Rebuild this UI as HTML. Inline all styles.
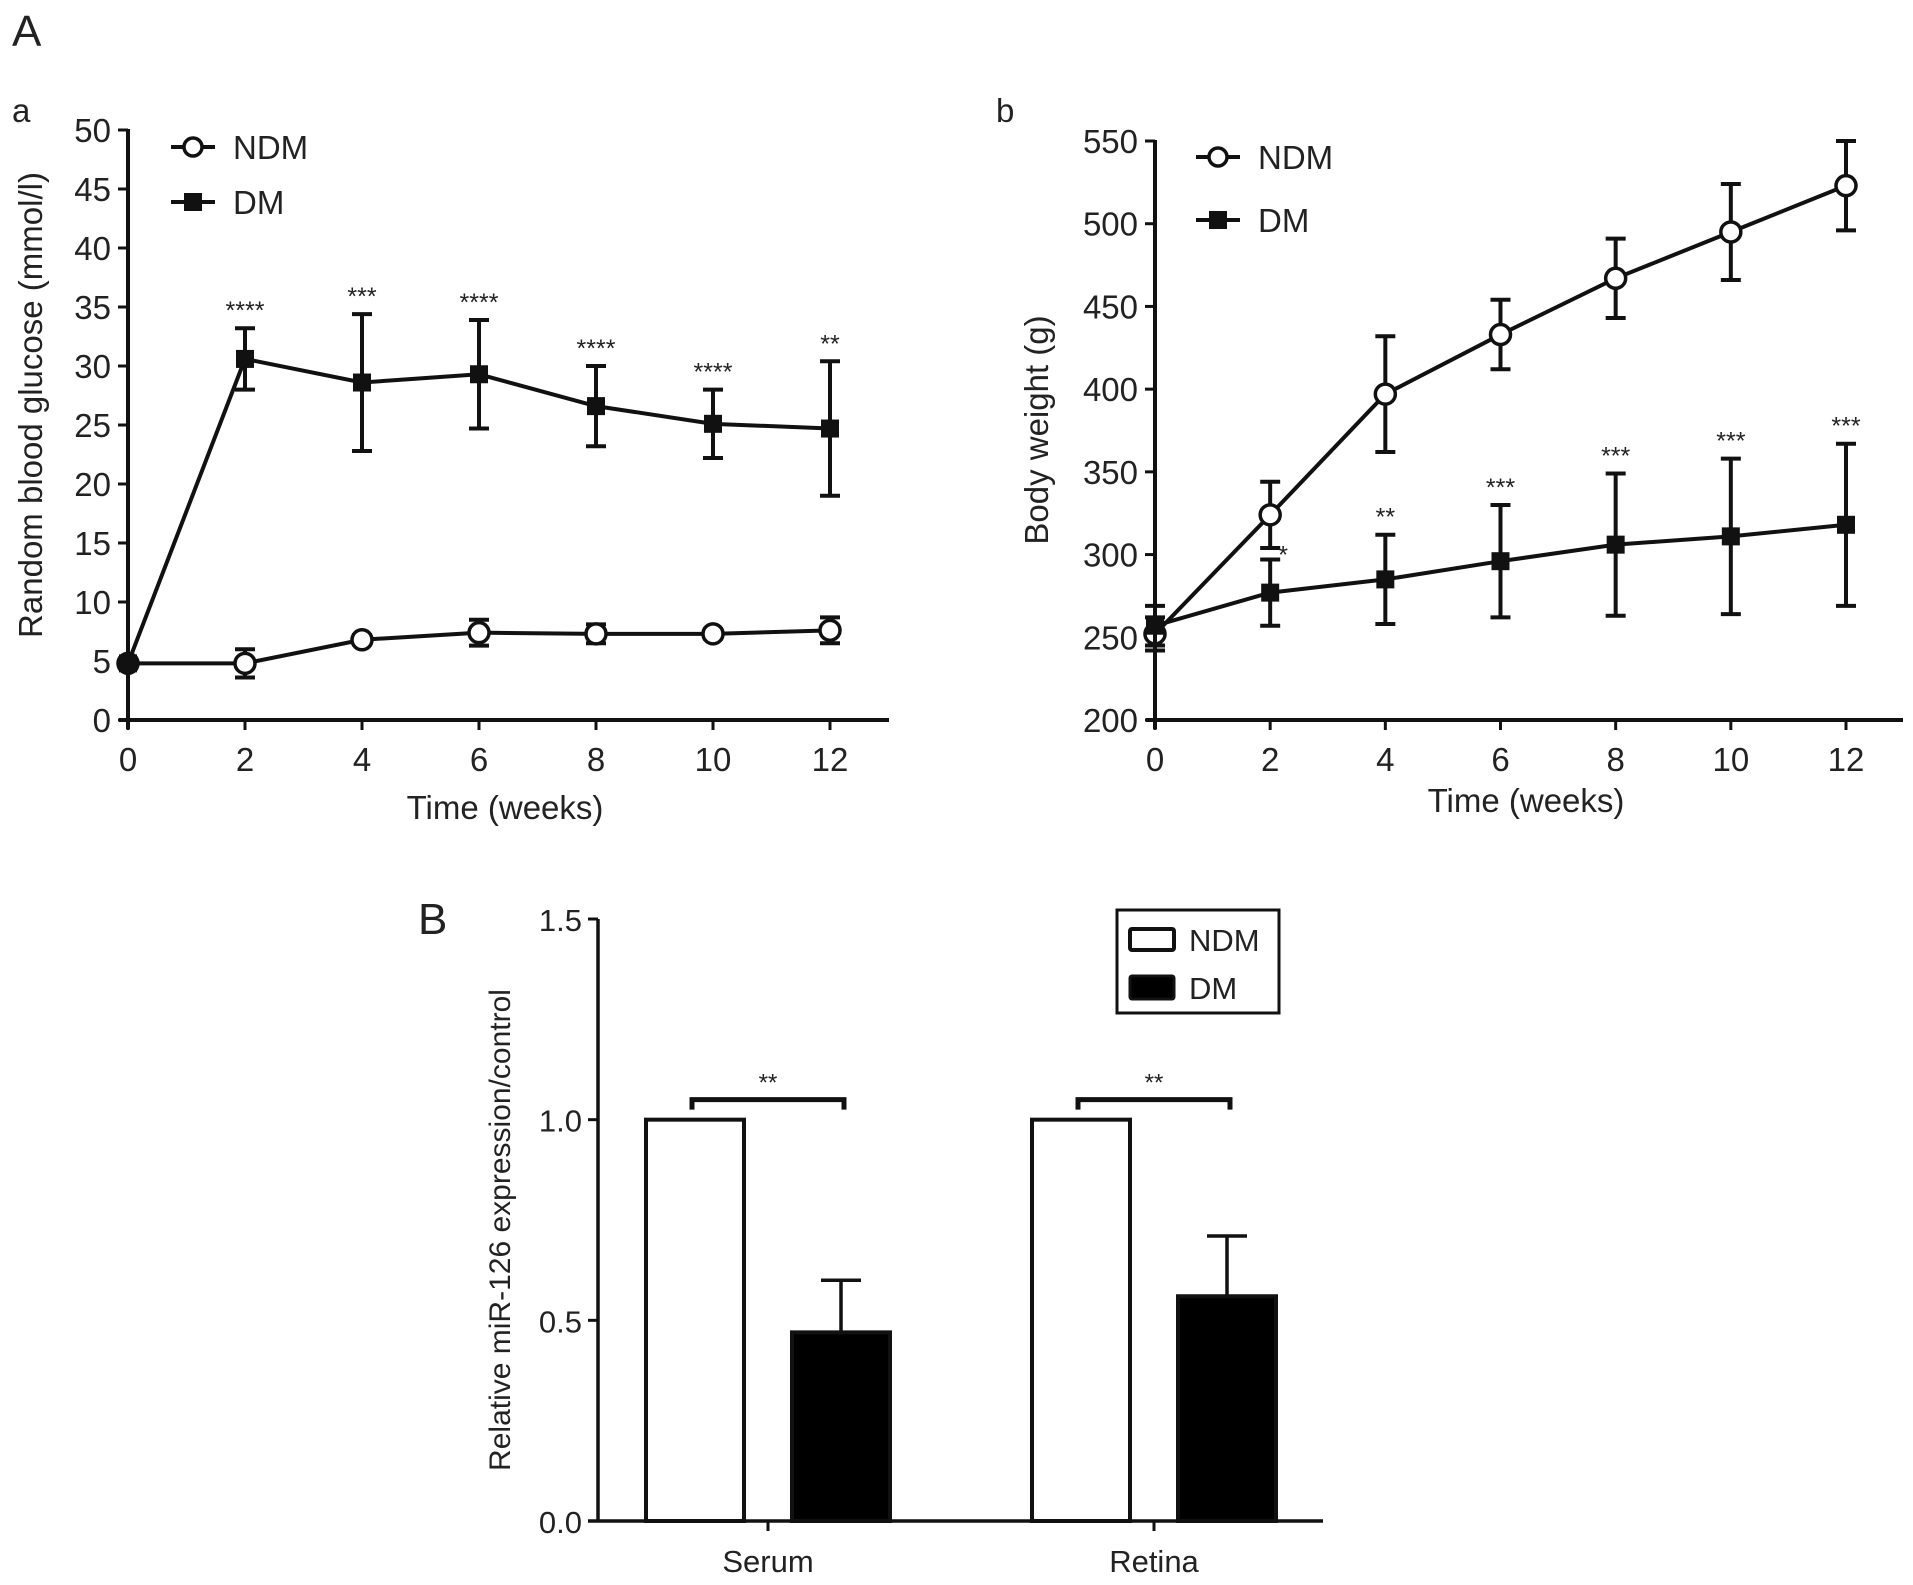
<!DOCTYPE html>
<html><head><meta charset="utf-8"><style>
html,body{margin:0;padding:0;background:#fff;}
svg{display:block;font-family:"Liberation Sans",Arial,sans-serif;}
</style></head><body>
<svg id="fig" width="1913" height="1585" viewBox="0 0 1913 1585">
<rect width="1913" height="1585" fill="#fff"/>
<text x="12" y="46" font-size="44" fill="#222">A</text>
<text x="12" y="122" font-size="33" fill="#222">a</text>
<text x="996" y="122" font-size="33" fill="#222">b</text>
<text x="418" y="934" font-size="44" fill="#222">B</text>
</svg>
<script>
// ---- Panel a data: blood glucose ----
const weeks = [0,2,4,6,8,10,12];
const glucoseNDM = [4.8,4.8,6.8,7.4,7.3,7.3,7.6];
const glucoseNDMErr = [0.4,1.2,0.4,1.1,0.8,0.4,1.1];
const glucoseDM = [4.8,30.6,28.6,29.3,26.6,25.1,24.7];
const glucoseDMErr = [0.4,2.6,5.8,4.6,3.4,2.9,5.7];
const glucoseStars = ["","****","***","****","****","****","**"];
const glucoseTicks = [0,5,10,15,20,25,30,35,40,45,50];
// ---- Panel b data: body weight ----
const weightNDM = [252,324,397,433,467,495,523];
const weightNDMErr = [10,20,35,21,24,29,27];
const weightDM = [257,277,285,296,306,311,318];
const weightDMErr = [12,20,27,34,43,47,49];
const weightStars = ["","*","**","***","***","***","***"];
const weightTicks = [200,250,300,350,400,450,500,550];
const xTicks = [0,2,4,6,8,10,12];
// ---- Panel B data: miR-126 ----
const tissues = ["Serum","Retina"];
const mirNDM = [1.0,1.0];
const mirDM = [0.47,0.56];
const mirDMErr = [0.13,0.15];
const mirStars = ["**","**"];
const mirTicks = ["0.0","0.5","1.0","1.5"];

const NS="http://www.w3.org/2000/svg";
const svg=document.getElementById('fig');
function mk(tag,attrs,parent){const e=document.createElementNS(NS,tag);for(const k in attrs)e.setAttribute(k,attrs[k]);(parent||svg).appendChild(e);return e;}

function linePanel(cfg){
  const g=mk('g',{});
  
  
  const xs=v=>cfg.x0+v/12*(cfg.x12-cfg.x0);
  const ys=v=>cfg.yb+(v-cfg.ymin)/(cfg.ymax-cfg.ymin)*(cfg.yt-cfg.yb);
  const ya=mk('line',{x1:cfg.x0,y1:ys(cfg.ymax)-1,x2:cfg.x0,y2:cfg.yb+9,stroke:'#111','stroke-width':4},g);
  
  
  const xa=mk('line',{x1:cfg.x0-9,y1:cfg.yb,x2:cfg.xend,y2:cfg.yb,stroke:'#111','stroke-width':4},g);
  
  
  cfg.yticks.forEach(t=>{
    mk('line',{x1:cfg.x0-10,y1:ys(t),x2:cfg.x0,y2:ys(t),stroke:'#111','stroke-width':3},g);
    const tx=mk('text',{x:cfg.x0-17,y:ys(t)+12,'font-size':33,'text-anchor':'end',fill:'#222'},g);
    tx.textContent=t;
    
    
  });
  xTicks.forEach(t=>{
    mk('line',{x1:xs(t),y1:cfg.yb,x2:xs(t),y2:cfg.yb+10,stroke:'#111','stroke-width':3},g);
    const tx=mk('text',{x:xs(t),y:cfg.yb+51,'font-size':33,'text-anchor':'middle',fill:'#222'},g);
    tx.textContent=t;
    
    
  });
  const xt=mk('text',{x:cfg.xtx,y:cfg.xty,'font-size':33,'text-anchor':'middle',fill:'#222'},g);
  xt.textContent='Time (weeks)';
  
  
  const yt=mk('text',{x:0,y:0,'font-size':33,'text-anchor':'middle',fill:'#222',transform:`translate(${cfg.ytx},${cfg.yty}) rotate(-90)`},g);
  yt.textContent=cfg.ytitle;
  
  
  function series(vals,errs,filled,nm){
    const sg=mk('g',{},g);
    
    
    let d='';vals.forEach((v,i)=>{d+=(i?'L':'M')+xs(weeks[i])+','+ys(v);});
    mk('path',{d:d,fill:'none',stroke:'#111','stroke-width':4},sg);
    vals.forEach((v,i)=>{
      const x=xs(weeks[i]),y1=ys(v+errs[i]),y2=ys(v-errs[i]);
      mk('line',{x1:x,y1:y1,x2:x,y2:y2,stroke:'#111','stroke-width':4},sg);
      mk('line',{x1:x-10,y1:y1,x2:x+10,y2:y1,stroke:'#111','stroke-width':4},sg);
      mk('line',{x1:x-10,y1:y2,x2:x+10,y2:y2,stroke:'#111','stroke-width':4},sg);
      let m;
      if(filled) m=mk('rect',{x:x-9,y:ys(v)-9,width:18,height:18,fill:'#111'},sg);
      else m=mk('circle',{cx:x,cy:ys(v),r:10,fill:'#fff',stroke:'#111','stroke-width':3.5},sg);
      
      
    });
  }
  series(cfg.ndm,cfg.ndmErr,false,'ndm-series');
  series(cfg.dm,cfg.dmErr,true,'dm-series');
  cfg.stars.forEach((s,i)=>{
    if(!s)return;
    const st=mk('text',{x:xs(weeks[i])+(s==='*'?13:0),y:(s==='*'?ys(cfg.dm[i]+cfg.dmErr[i])+4:ys(cfg.dm[i]+cfg.dmErr[i])-9),'font-size':25,'text-anchor':'middle',fill:'#222'},g);
    st.textContent=s;
    
    
  });
  [[cfg.legY1,'NDM',false],[cfg.legY2,'DM',true]].forEach(([y,lab,f])=>{
    const lg=mk('g',{},g);
    
    
    mk('line',{x1:cfg.legX,y1:y,x2:cfg.legX+44,y2:y,stroke:'#111','stroke-width':4},lg);
    if(f) mk('rect',{x:cfg.legX+13,y:y-9,width:18,height:18,fill:'#111'},lg);
    else mk('circle',{cx:cfg.legX+22,cy:y,r:9,fill:'#fff',stroke:'#111','stroke-width':3.5},lg);
    const t=mk('text',{x:cfg.legX+62,y:y+12,'font-size':33,fill:'#222'},lg);
    t.textContent=lab;
  });
}

linePanel({name:'glucose-chart',x0:128,x12:830,xend:889,yb:720,yt:130,ymin:0,ymax:50,yticks:glucoseTicks,
  ndm:glucoseNDM,ndmErr:glucoseNDMErr,dm:glucoseDM,dmErr:glucoseDMErr,stars:glucoseStars,
  xtx:505,xty:819,ytx:42,yty:405,ytitle:'Random blood glucose (mmol/l)',legX:171,legY1:147,legY2:202});
linePanel({name:'body-weight-chart',x0:1155,x12:1846,xend:1903,yb:720,yt:141,ymin:200,ymax:550,yticks:weightTicks,
  ndm:weightNDM,ndmErr:weightNDMErr,dm:weightDM,dmErr:weightDMErr,stars:weightStars,
  xtx:1526,xty:812,ytx:1048,yty:430,ytitle:'Body weight (g)',legX:1196,legY1:157,legY2:220});

// ---- Bar chart B ----
(function(){
  const g=mk('g',{});
  
  
  const x0=598,xend=1323,yb=1521,yt=919;
  const ys=v=>yb+v/1.5*(yt-yb);
  const centers=[768,1154];
  const bw=98, off=73;
  mirTicks.forEach(t=>{
    mk('line',{x1:x0-10,y1:ys(+t),x2:x0,y2:ys(+t),stroke:'#111','stroke-width':3},g);
    const tx=mk('text',{x:x0-16,y:ys(+t)+12,'font-size':31,'text-anchor':'end',fill:'#222'},g);
    tx.textContent=t;
    
    
  });
  tissues.forEach((c,i)=>{
    const cx=centers[i];
    mk('line',{x1:cx,y1:yb,x2:cx,y2:yb+10,stroke:'#111','stroke-width':3},g);
    const tx=mk('text',{x:cx,y:yb+51,'font-size':31,'text-anchor':'middle',fill:'#222'},g);
    tx.textContent=c;
    
    
    const b1=mk('rect',{x:cx-off-bw/2,y:ys(mirNDM[i]),width:bw,height:yb-ys(mirNDM[i]),fill:'#fff',stroke:'#111','stroke-width':4},g);
    
    
    const dx=cx+off;
    const top=ys(mirDM[i]+mirDMErr[i]);
    mk('line',{x1:dx,y1:top,x2:dx,y2:ys(mirDM[i]),stroke:'#111','stroke-width':3.5},g);
    mk('line',{x1:dx-20,y1:top,x2:dx+20,y2:top,stroke:'#111','stroke-width':3.5},g);
    const b2=mk('rect',{x:dx-bw/2,y:ys(mirDM[i]),width:bw,height:yb-ys(mirDM[i]),fill:'#000',stroke:'#111','stroke-width':4},g);
    
    
    const by=ys(1.05);
    const br=mk('path',{d:`M${cx-off-3},${by+10}V${by}H${dx+3}V${by+10}`,fill:'none',stroke:'#111','stroke-width':5},g);
    
    
    const st=mk('text',{x:(cx-off+dx)/2,y:by-9,'font-size':24,'text-anchor':'middle',fill:'#222'},g);
    st.textContent=mirStars[i];
    
    
  });
  const ya=mk('line',{x1:x0,y1:yt,x2:x0,y2:yb,stroke:'#111','stroke-width':3.5},g);
  
  
  const xa=mk('line',{x1:x0-10,y1:yb,x2:xend,y2:yb,stroke:'#111','stroke-width':3.5},g);
  
  
  const yt2=mk('text',{x:0,y:0,'font-size':30,'text-anchor':'middle',fill:'#222',transform:'translate(510,1230) rotate(-90)'},g);
  yt2.textContent='Relative miR-126 expression/control';
  
  
  const lg=mk('g',{},g);
  
  
  mk('rect',{x:1117,y:910,width:162,height:103,fill:'#fff',stroke:'#111','stroke-width':3},lg);
  mk('rect',{x:1130,y:929,width:44,height:21,fill:'#fff',stroke:'#111','stroke-width':4,rx:2},lg);
  mk('rect',{x:1130,y:976,width:44,height:23,fill:'#000',stroke:'#111','stroke-width':3,rx:2},lg);
  const t1=mk('text',{x:1189,y:951,'font-size':31,fill:'#222'},lg);t1.textContent='NDM';
  const t2=mk('text',{x:1189,y:999,'font-size':31,fill:'#222'},lg);t2.textContent='DM';
})();
</script>
</body></html>
